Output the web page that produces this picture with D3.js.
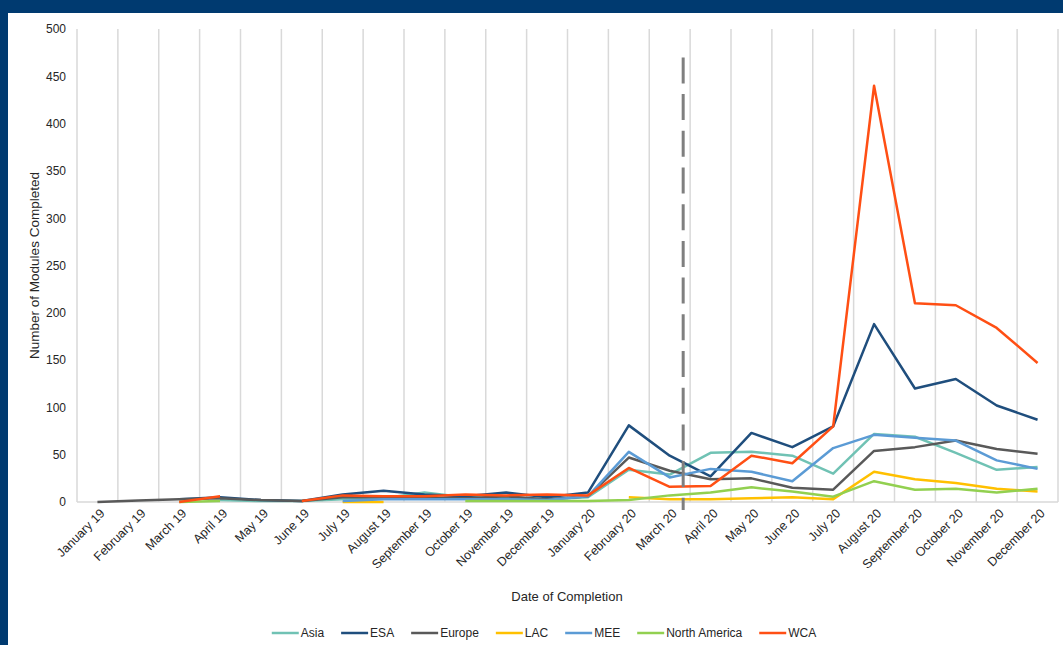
<!DOCTYPE html>
<html>
<head>
<meta charset="utf-8">
<script src="https://cdn.jsdelivr.net/npm/d3@7"></script>
<style>
  html, body { margin: 0; padding: 0; background: #003a70; }
  svg { display: block; }
  text { font-family: "Liberation Sans", Arial, sans-serif; fill: #262626; }
</style>
</head>
<body>
<svg id="chart" width="1063" height="645"></svg>
<script>
// Months of completion
const months = [
  "January 19", "February 19", "March 19", "April 19", "May 19", "June 19",
  "July 19", "August 19", "September 19", "October 19", "November 19", "December 19",
  "January 20", "February 20", "March 20", "April 20", "May 20", "June 20",
  "July 20", "August 20", "September 20", "October 20", "November 20", "December 20"
];

// Modules completed per region (null = no entry that month)
const asia = [null, null, null, 2, 1, 1, 3, 4, 10, 5, 4, 3,
  5, 34, 29, 52, 53, 49, 30, 72, 69, 52, 34, 37];
const esa = [null, null, 3, 5, 2, 1, 8, 12, 8, 6, 10, 5,
  10, 81, 49, 27, 73, 58, 80, 188, 120, 130, 102, 87];
const europe = [0, 1.5, 3, 4, 2, 1, 5, 5, 4, 4, 6, 3,
  6, 47, 33, 24, 25, 15, 13, 54, 58, 65, 56, 51];
const lac = [null, null, null, null, null, null, 0, 0, null, null, null, null,
  null, 5, 3, 3, 4, 5, 3, 32, 24, 20, 14, 11];
const mee = [null, null, null, null, null, null, 1, 3, 3, 3, 3, 2,
  6, 53, 26, 35, 32, 22, 57, 71, 68, 65, 44, 35];
const northAmerica = [null, null, 0, 1, null, null, null, null, null, 1, 1, 1,
  1, 2, 7, 10, 15.5, 11, 5.6, 22, 13, 14, 10, 14];
const wca = [null, null, 0, 6, null, 1, 7, 6, 6, 8, 7, 8,
  7, 36, 16, 17, 49, 41, 80, 440, 210, 208, 184, 147];

const seriesNames = ["Asia", "ESA", "Europe", "LAC", "MEE", "North America", "WCA"];
const seriesValues = [asia, esa, europe, lac, mee, northAmerica, wca];
const seriesColors = ["#70c2b4", "#1f4e7d", "#595959", "#ffc000", "#5b9bd5", "#92d050", "#ff4f14"];

const yTicks = [0, 50, 100, 150, 200, 250, 300, 350, 400, 450, 500];

// Vertical dashed marker drawn between March 20 and April 20
const markerMonth = "March 20";
const markerOffset = 0.83;   // fraction of the month band
const markerTop = 470;

const svg = d3.select("#chart");

// white panel inside the dark frame
svg.append("rect")
  .attr("x", 8).attr("y", 13)
  .attr("width", 1063 - 8).attr("height", 645 - 13)
  .attr("fill", "#ffffff");

const plot = { left: 77, right: 1058, top: 29, bottom: 502 };

const x = d3.scaleBand().domain(months).range([plot.left, plot.right]).padding(0);
const y = d3.scaleLinear().domain([0, 500]).range([plot.bottom, plot.top]);
const cx = m => x(m) + x.bandwidth() / 2;

// vertical gridlines at month boundaries
const edges = months.map(m => x(m)).concat([x(months[months.length - 1]) + x.bandwidth()]);
svg.append("g")
  .selectAll("line")
  .data(edges)
  .join("line")
  .attr("x1", d => d).attr("x2", d => d)
  .attr("y1", plot.top).attr("y2", plot.bottom)
  .attr("stroke", "#d9d9d9")
  .attr("stroke-width", 1.5);

// baseline
svg.append("line")
  .attr("x1", plot.left).attr("x2", plot.right)
  .attr("y1", y(0)).attr("y2", y(0))
  .attr("stroke", "#d9d9d9")
  .attr("stroke-width", 1.5);

// y axis labels
const yAxis = d3.axisLeft(y).tickValues(yTicks).tickSize(0).tickPadding(11);
const yg = svg.append("g").attr("transform", `translate(${plot.left},0)`).call(yAxis);
yg.select(".domain").remove();
yg.selectAll("text")
  .style("font-size", "12px")
  .style("font-family", "Liberation Sans, Arial, sans-serif")
  .attr("fill", "#262626");

// x axis labels, rotated
const xg = svg.append("g");
xg.selectAll("text")
  .data(months)
  .join("text")
  .attr("transform", d => `translate(${cx(d) + 5},${plot.bottom + 9}) rotate(-45)`)
  .attr("text-anchor", "end")
  .attr("dy", "0.35em")
  .style("font-size", "12.5px")
  .text(d => d);

// lines
const line = d3.line()
  .defined(d => d.v !== null)
  .x(d => cx(d.m))
  .y(d => y(d.v));

seriesNames.forEach((name, i) => {
  const pts = months.map((m, j) => ({ m, v: seriesValues[i][j] }));
  svg.append("path")
    .datum(pts)
    .attr("fill", "none")
    .attr("stroke", seriesColors[i])
    .attr("stroke-width", 2.5)
    .attr("stroke-linejoin", "round")
    .attr("d", line);
});

// dashed marker
const mx = x(markerMonth) + x.bandwidth() * markerOffset;
svg.append("line")
  .attr("x1", mx).attr("x2", mx)
  .attr("y1", y(markerTop)).attr("y2", plot.bottom + 8)
  .attr("stroke", "#7f7f7f")
  .attr("stroke-width", 3)
  .attr("stroke-dasharray", "26 10.7");

// axis titles
svg.append("text")
  .attr("transform", `translate(39,${(plot.top + plot.bottom) / 2}) rotate(-90)`)
  .attr("text-anchor", "middle")
  .style("font-size", "13.5px")
  .text("Number of Modules Completed");

svg.append("text")
  .attr("x", 567).attr("y", 601)
  .attr("text-anchor", "middle")
  .style("font-size", "13px")
  .text("Date of Completion");

// legend
const legend = svg.append("g");
let lx = 0;
seriesNames.forEach((name, i) => {
  const g = legend.append("g").attr("transform", `translate(${lx},0)`);
  g.append("line")
    .attr("x1", 0).attr("x2", 27)
    .attr("y1", 0).attr("y2", 0)
    .attr("stroke", seriesColors[i])
    .attr("stroke-width", 2.5);
  const t = g.append("text")
    .attr("x", 29).attr("dy", "0.35em")
    .style("font-size", "12px")
    .text(name);
  lx += 29 + t.node().getComputedTextLength() + 17;
});
const legendWidth = lx - 17;
legend.attr("transform", `translate(${544 - legendWidth / 2},633)`);
</script>
</body>
</html>
